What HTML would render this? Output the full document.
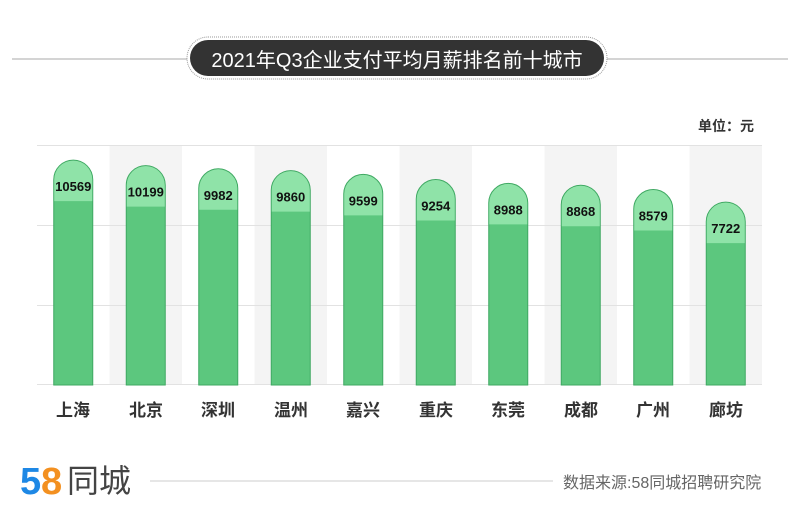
<!DOCTYPE html>
<html><head><meta charset="utf-8"><style>
body{margin:0;background:#fff;}
svg{display:block;font-family:"Liberation Sans","Noto Sans CJK SC",sans-serif;}
</style></head><body>
<svg width="800" height="531" viewBox="0 0 800 531" xmlns="http://www.w3.org/2000/svg">
<line x1="12" y1="59" x2="788" y2="59" stroke="#aaa" stroke-width="1"/>
<rect x="187" y="37" width="420" height="42" rx="21" fill="#fff" stroke="#999" stroke-dasharray="1,1"/>
<rect x="190" y="40" width="414" height="36" rx="18" fill="#333"/>
<text x="397" y="67" fill="#fff" font-size="20" text-anchor="middle">2021年Q3企业支付平均月薪排名前十城市</text>
<text x="754" y="131" font-size="14" font-weight="bold" fill="#333" text-anchor="end">单位：元</text>
<g fill="#f4f4f4">
<rect x="109.5" y="145" width="72.5" height="240"/><rect x="254.5" y="145" width="72.5" height="240"/><rect x="399.5" y="145" width="72.5" height="240"/><rect x="544.5" y="145" width="72.5" height="240"/><rect x="689.5" y="145" width="72.5" height="240"/>
</g>
<g stroke="#e2e2e2" stroke-width="1">
<line x1="37" y1="145.5" x2="762" y2="145.5"/><line x1="37" y1="225.5" x2="762" y2="225.5"/><line x1="37" y1="305.5" x2="762" y2="305.5"/><line x1="37" y1="384.5" x2="762" y2="384.5"/>
</g>
<g fill="#5cc77e" stroke="#3fa862" stroke-width="1">
<path d="M53.75 385 V179.6 A19.5 19.5 0 0 1 92.75 179.6 V385 Z"/>
<path d="M126.25 385 V185.1 A19.5 19.5 0 0 1 165.25 185.1 V385 Z"/>
<path d="M198.75 385 V188.3 A19.5 19.5 0 0 1 237.75 188.3 V385 Z"/>
<path d="M271.25 385 V190.1 A19.5 19.5 0 0 1 310.25 190.1 V385 Z"/>
<path d="M343.75 385 V193.9 A19.5 19.5 0 0 1 382.75 193.9 V385 Z"/>
<path d="M416.25 385 V199 A19.5 19.5 0 0 1 455.25 199 V385 Z"/>
<path d="M488.75 385 V202.9 A19.5 19.5 0 0 1 527.75 202.9 V385 Z"/>
<path d="M561.25 385 V204.7 A19.5 19.5 0 0 1 600.25 204.7 V385 Z"/>
<path d="M633.75 385 V209 A19.5 19.5 0 0 1 672.75 209 V385 Z"/>
<path d="M706.25 385 V221.6 A19.5 19.5 0 0 1 745.25 221.6 V385 Z"/>
</g>
<g fill="#8fe3a8">
<path d="M54.25 201.1 V179.6 A19 19 0 0 1 92.25 179.6 V201.1 Z"/>
<path d="M126.75 206.6 V185.1 A19 19 0 0 1 164.75 185.1 V206.6 Z"/>
<path d="M199.25 209.8 V188.3 A19 19 0 0 1 237.25 188.3 V209.8 Z"/>
<path d="M271.75 211.6 V190.1 A19 19 0 0 1 309.75 190.1 V211.6 Z"/>
<path d="M344.25 215.4 V193.9 A19 19 0 0 1 382.25 193.9 V215.4 Z"/>
<path d="M416.75 220.5 V199 A19 19 0 0 1 454.75 199 V220.5 Z"/>
<path d="M489.25 224.4 V202.9 A19 19 0 0 1 527.25 202.9 V224.4 Z"/>
<path d="M561.75 226.2 V204.7 A19 19 0 0 1 599.75 204.7 V226.2 Z"/>
<path d="M634.25 230.5 V209 A19 19 0 0 1 672.25 209 V230.5 Z"/>
<path d="M706.75 243.1 V221.6 A19 19 0 0 1 744.75 221.6 V243.1 Z"/>
</g>
<g font-size="13" font-weight="bold" fill="#111" text-anchor="middle">
<text x="73.25" y="191.1">10569</text><text x="145.75" y="196.6">10199</text><text x="218.25" y="199.8">9982</text><text x="290.75" y="201.6">9860</text><text x="363.25" y="205.4">9599</text><text x="435.75" y="210.5">9254</text><text x="508.25" y="214.4">8988</text><text x="580.75" y="216.2">8868</text><text x="653.25" y="220.5">8579</text><text x="725.75" y="233.1">7722</text>
</g>
<g font-size="17" font-weight="bold" fill="#333" text-anchor="middle">
<text x="73" y="416">上海</text><text x="146" y="416">北京</text><text x="218" y="416">深圳</text><text x="291" y="416">温州</text><text x="363" y="416">嘉兴</text><text x="436" y="416">重庆</text><text x="508" y="416">东莞</text><text x="581" y="416">成都</text><text x="653" y="416">广州</text><text x="726" y="416">廊坊</text>
</g>
<text x="20" y="494" font-size="38" font-weight="bold" fill="#1e88e5">5</text>
<text x="41" y="494" font-size="38" font-weight="bold" fill="#f39020">8</text>
<text x="67" y="492" font-size="32" fill="#444">同城</text>
<line x1="150" y1="481" x2="553" y2="481" stroke="#ddd" stroke-width="1.5"/>
<text x="563" y="488" font-size="16" fill="#666">数据来源:58同城招聘研究院</text>
</svg>
</body></html>
